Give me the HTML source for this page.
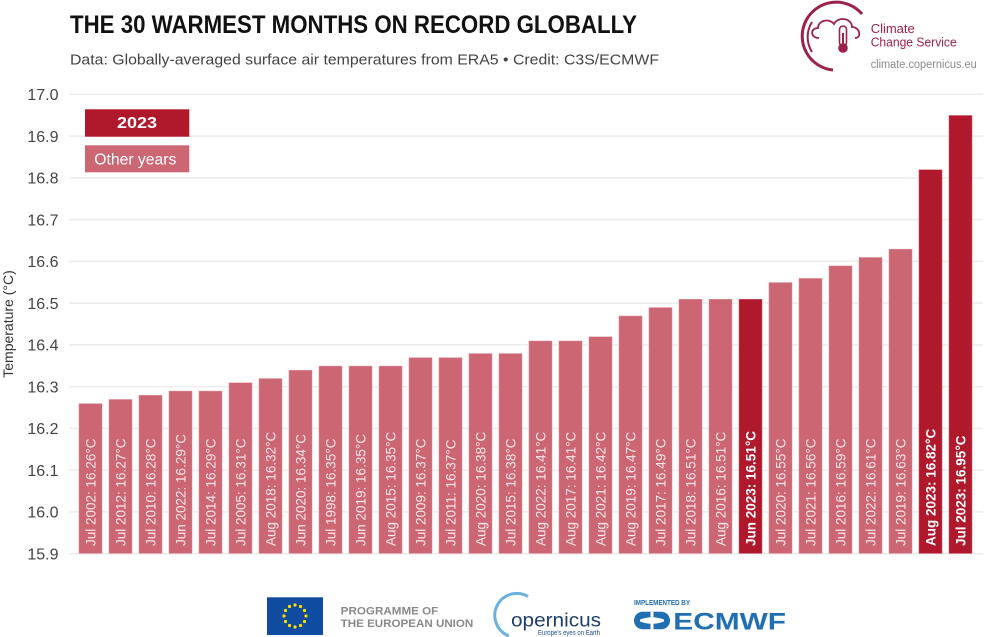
<!DOCTYPE html>
<html>
<head>
<meta charset="utf-8">
<style>
  html,body{margin:0;padding:0;background:#fff;}
  svg{display:block;font-family:"Liberation Sans",sans-serif;}
  .bl{font-size:13.5px;fill:#f8e6e8;}
  .bb{font-size:13.5px;fill:#fff;font-weight:bold;}
  .yt{font-size:16px;fill:#444;text-anchor:end;}
</style>
</head>
<body>
<svg width="1000" height="637" viewBox="0 0 1000 637" xmlns="http://www.w3.org/2000/svg">
  <rect width="1000" height="637" fill="#fff"/>

  <!-- Title -->
  <text x="70" y="33" font-size="25" font-weight="bold" fill="#111" textLength="567" lengthAdjust="spacingAndGlyphs">THE 30 WARMEST MONTHS ON RECORD GLOBALLY</text>
  <text x="70" y="64.5" font-size="15" fill="#444" textLength="589" lengthAdjust="spacingAndGlyphs">Data: Globally-averaged surface air temperatures from ERA5 • Credit: C3S/ECMWF</text>

  <!-- CCS logo -->
  <path d="M 862 14 A 34 34 0 1 0 833 70" fill="none" stroke="#9c2248" stroke-width="3"/>
  <path d="M 812 22 A 28 28 0 0 0 812 52" fill="none" stroke="#9c2248" stroke-width="2"/>
  <path d="M 819 38 C 810 38 810 28 818 28 C 818 20 830 18 834 24 C 838 16 852 18 852 27 C 860 27 862 38 855 38" fill="none" stroke="#9c2248" stroke-width="1.8"/>
  <rect x="839.5" y="26" width="7" height="20" rx="3.5" fill="#fff" stroke="#9c2248" stroke-width="1.6"/>
  <circle cx="843" cy="48" r="4.8" fill="#9c2248"/>
  <rect x="842" y="33" width="2" height="14" fill="#9c2248"/>
  <text x="870.7" y="33" font-size="13" fill="#9c2248">Climate</text>
  <text x="870.7" y="46.5" font-size="13" fill="#9c2248" textLength="86" lengthAdjust="spacingAndGlyphs">Change Service</text>
  <text x="870.7" y="68" font-size="11.5" fill="#8a8a8a" textLength="106" lengthAdjust="spacingAndGlyphs">climate.copernicus.eu</text>

  <!-- Gridlines -->
  <g stroke="#ececec" stroke-width="1.5">
    <line x1="69" x2="983" y1="553.7" y2="553.7"/>
    <line x1="69" x2="983" y1="511.9" y2="511.9"/>
    <line x1="69" x2="983" y1="470.2" y2="470.2"/>
    <line x1="69" x2="983" y1="428.4" y2="428.4"/>
    <line x1="69" x2="983" y1="386.7" y2="386.7"/>
    <line x1="69" x2="983" y1="344.9" y2="344.9"/>
    <line x1="69" x2="983" y1="303.1" y2="303.1"/>
    <line x1="69" x2="983" y1="261.4" y2="261.4"/>
    <line x1="69" x2="983" y1="219.6" y2="219.6"/>
    <line x1="69" x2="983" y1="177.9" y2="177.9"/>
    <line x1="69" x2="983" y1="136.1" y2="136.1"/>
    <line x1="69" x2="983" y1="94.3" y2="94.3"/>
  </g>

  <!-- Y tick labels -->
  <text class="yt" x="58.5" y="559.5">15.9</text>
  <text class="yt" x="58.5" y="517.7">16.0</text>
  <text class="yt" x="58.5" y="476">16.1</text>
  <text class="yt" x="58.5" y="434.2">16.2</text>
  <text class="yt" x="58.5" y="392.5">16.3</text>
  <text class="yt" x="58.5" y="350.7">16.4</text>
  <text class="yt" x="58.5" y="308.9">16.5</text>
  <text class="yt" x="58.5" y="267.2">16.6</text>
  <text class="yt" x="58.5" y="225.4">16.7</text>
  <text class="yt" x="58.5" y="183.7">16.8</text>
  <text class="yt" x="58.5" y="141.9">16.9</text>
  <text class="yt" x="58.5" y="100.1">17.0</text>

  <!-- Y axis title -->
  <text transform="translate(13,324) rotate(-90)" text-anchor="middle" font-size="14" fill="#333">Temperature (°C)</text>

  <!-- Legend -->
  <rect x="85" y="109.3" width="104.3" height="27.4" fill="#b0182c"/>
  <text x="137" y="128" text-anchor="middle" font-size="16" font-weight="bold" fill="#fff" textLength="40" lengthAdjust="spacingAndGlyphs">2023</text>
  <rect x="85" y="145.3" width="104.3" height="27" fill="#cc6673"/>
  <text x="94.3" y="164.3" font-size="15.5" fill="#fff" textLength="82" lengthAdjust="spacingAndGlyphs">Other years</text>

  <!-- Bars -->
  <g stroke="rgba(255,255,255,0.35)" stroke-width="1">
    <rect x="78.7" y="403.4" width="23.6" height="150.3" fill="#cc6673"/>
    <rect x="108.7" y="399.2" width="23.6" height="154.5" fill="#cc6673"/>
    <rect x="138.7" y="395.0" width="23.6" height="158.7" fill="#cc6673"/>
    <rect x="168.7" y="390.8" width="23.6" height="162.9" fill="#cc6673"/>
    <rect x="198.7" y="390.8" width="23.6" height="162.9" fill="#cc6673"/>
    <rect x="228.7" y="382.5" width="23.6" height="171.2" fill="#cc6673"/>
    <rect x="258.7" y="378.3" width="23.6" height="175.4" fill="#cc6673"/>
    <rect x="288.7" y="370.0" width="23.6" height="183.7" fill="#cc6673"/>
    <rect x="318.7" y="365.8" width="23.6" height="187.9" fill="#cc6673"/>
    <rect x="348.7" y="365.8" width="23.6" height="187.9" fill="#cc6673"/>
    <rect x="378.7" y="365.8" width="23.6" height="187.9" fill="#cc6673"/>
    <rect x="408.7" y="357.4" width="23.6" height="196.3" fill="#cc6673"/>
    <rect x="438.7" y="357.4" width="23.6" height="196.3" fill="#cc6673"/>
    <rect x="468.7" y="353.3" width="23.6" height="200.4" fill="#cc6673"/>
    <rect x="498.7" y="353.3" width="23.6" height="200.4" fill="#cc6673"/>
    <rect x="528.7" y="340.7" width="23.6" height="213.0" fill="#cc6673"/>
    <rect x="558.7" y="340.7" width="23.6" height="213.0" fill="#cc6673"/>
    <rect x="588.7" y="336.5" width="23.6" height="217.2" fill="#cc6673"/>
    <rect x="618.7" y="315.7" width="23.6" height="238.0" fill="#cc6673"/>
    <rect x="648.7" y="307.3" width="23.6" height="246.4" fill="#cc6673"/>
    <rect x="678.7" y="299.0" width="23.6" height="254.7" fill="#cc6673"/>
    <rect x="708.7" y="299.0" width="23.6" height="254.7" fill="#cc6673"/>
    <rect x="738.7" y="299.0" width="23.6" height="254.7" fill="#b0182c"/>
    <rect x="768.7" y="282.3" width="23.6" height="271.4" fill="#cc6673"/>
    <rect x="798.7" y="278.1" width="23.6" height="275.6" fill="#cc6673"/>
    <rect x="828.7" y="265.6" width="23.6" height="288.1" fill="#cc6673"/>
    <rect x="858.7" y="257.2" width="23.6" height="296.5" fill="#cc6673"/>
    <rect x="888.7" y="248.9" width="23.6" height="304.8" fill="#cc6673"/>
    <rect x="918.7" y="169.5" width="23.6" height="384.2" fill="#b0182c"/>
    <rect x="948.7" y="115.2" width="23.6" height="438.5" fill="#b0182c"/>
  </g>

  <!-- Bar labels -->
  <text class="bl" transform="translate(95.5,546) rotate(-90)">Jul 2002: 16.26°C</text>
  <text class="bl" transform="translate(125.5,546) rotate(-90)">Jul 2012: 16.27°C</text>
  <text class="bl" transform="translate(155.5,546) rotate(-90)">Jul 2010: 16.28°C</text>
  <text class="bl" transform="translate(185.5,546) rotate(-90)">Jun 2022: 16.29°C</text>
  <text class="bl" transform="translate(215.5,546) rotate(-90)">Jul 2014: 16.29°C</text>
  <text class="bl" transform="translate(245.5,546) rotate(-90)">Jul 2005: 16.31°C</text>
  <text class="bl" transform="translate(275.5,546) rotate(-90)">Aug 2018: 16.32°C</text>
  <text class="bl" transform="translate(305.5,546) rotate(-90)">Jun 2020: 16.34°C</text>
  <text class="bl" transform="translate(335.5,546) rotate(-90)">Jul 1998: 16.35°C</text>
  <text class="bl" transform="translate(365.5,546) rotate(-90)">Jun 2019: 16.35°C</text>
  <text class="bl" transform="translate(395.5,546) rotate(-90)">Aug 2015: 16.35°C</text>
  <text class="bl" transform="translate(425.5,546) rotate(-90)">Jul 2009: 16.37°C</text>
  <text class="bl" transform="translate(455.5,546) rotate(-90)">Jul 2011: 16.37°C</text>
  <text class="bl" transform="translate(485.5,546) rotate(-90)">Aug 2020: 16.38°C</text>
  <text class="bl" transform="translate(515.5,546) rotate(-90)">Jul 2015: 16.38°C</text>
  <text class="bl" transform="translate(545.5,546) rotate(-90)">Aug 2022: 16.41°C</text>
  <text class="bl" transform="translate(575.5,546) rotate(-90)">Aug 2017: 16.41°C</text>
  <text class="bl" transform="translate(605.5,546) rotate(-90)">Aug 2021: 16.42°C</text>
  <text class="bl" transform="translate(635.5,546) rotate(-90)">Aug 2019: 16.47°C</text>
  <text class="bl" transform="translate(665.5,546) rotate(-90)">Jul 2017: 16.49°C</text>
  <text class="bl" transform="translate(695.5,546) rotate(-90)">Jul 2018: 16.51°C</text>
  <text class="bl" transform="translate(725.5,546) rotate(-90)">Aug 2016: 16.51°C</text>
  <text class="bb" transform="translate(755.5,546) rotate(-90)">Jun 2023: 16.51°C</text>
  <text class="bl" transform="translate(785.5,546) rotate(-90)">Jul 2020: 16.55°C</text>
  <text class="bl" transform="translate(815.5,546) rotate(-90)">Jul 2021: 16.56°C</text>
  <text class="bl" transform="translate(845.5,546) rotate(-90)">Jul 2016: 16.59°C</text>
  <text class="bl" transform="translate(875.5,546) rotate(-90)">Jul 2022: 16.61°C</text>
  <text class="bl" transform="translate(905.5,546) rotate(-90)">Jul 2019: 16.63°C</text>
  <text class="bb" transform="translate(935.5,546) rotate(-90)">Aug 2023: 16.82°C</text>
  <text class="bb" transform="translate(965.5,546) rotate(-90)">Jul 2023: 16.95°C</text>

  <!-- Footer: EU -->
  <rect x="267" y="597.3" width="56" height="37.7" fill="#0f4ca0"/>
  <g fill="#ffdd00">
    <circle cx="295" cy="605" r="1.6"/>
    <circle cx="300.5" cy="606.5" r="1.6"/>
    <circle cx="304.5" cy="610.5" r="1.6"/>
    <circle cx="306" cy="616" r="1.6"/>
    <circle cx="304.5" cy="621.5" r="1.6"/>
    <circle cx="300.5" cy="625.5" r="1.6"/>
    <circle cx="295" cy="627" r="1.6"/>
    <circle cx="289.5" cy="625.5" r="1.6"/>
    <circle cx="285.5" cy="621.5" r="1.6"/>
    <circle cx="284" cy="616" r="1.6"/>
    <circle cx="285.5" cy="610.5" r="1.6"/>
    <circle cx="289.5" cy="606.5" r="1.6"/>
  </g>
  <text x="340.7" y="614.7" font-size="11" font-weight="bold" fill="#8a8a8a" textLength="97.6" lengthAdjust="spacingAndGlyphs">PROGRAMME OF</text>
  <text x="340.7" y="627" font-size="11" font-weight="bold" fill="#8a8a8a" textLength="132.6" lengthAdjust="spacingAndGlyphs">THE EUROPEAN UNION</text>

  <!-- Footer: Copernicus -->
  <path d="M 528 596.5 A 22 22 0 1 0 509 636" fill="none" stroke="#6cb0de" stroke-width="3"/>
  <text x="511" y="626.5" font-size="19" fill="#1d3f6e" textLength="90" lengthAdjust="spacingAndGlyphs">opernicus</text>
  <text x="538" y="635" font-size="7.5" fill="#1d4f8e" textLength="62" lengthAdjust="spacingAndGlyphs">Europe's eyes on Earth</text>

  <!-- Footer: ECMWF -->
  <text x="634" y="605" font-size="7" font-weight="bold" fill="#1e6db3" textLength="56" lengthAdjust="spacingAndGlyphs">IMPLEMENTED BY</text>
  <rect x="634" y="611.7" width="36" height="17.6" rx="8.8" fill="#1f6fb2"/>
  <path d="M 640 619.5 Q 652 615 664 619.5 L 664 621.5 Q 652 626 640 621.5 Z" fill="#fff"/>
  <rect x="650.5" y="611.7" width="3" height="17.6" fill="#fff"/>
  <text x="673.3" y="629.3" font-size="24.5" font-weight="bold" fill="#1f6fb2" textLength="112.7" lengthAdjust="spacingAndGlyphs">ECMWF</text>
</svg>
</body>
</html>
